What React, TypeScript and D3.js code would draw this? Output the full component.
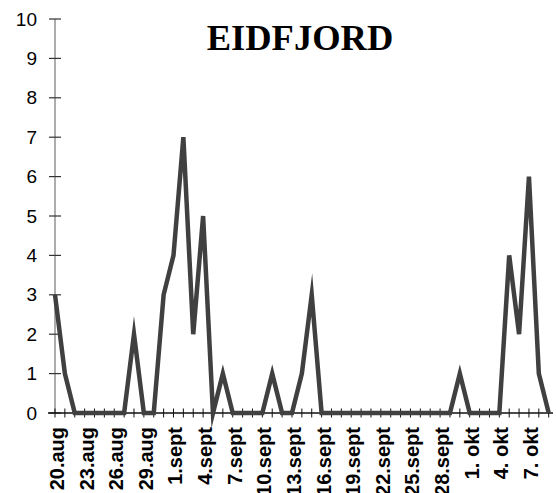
import React from "react";
import * as d3 from "d3";

const W = 556;
const H = 493;
const margin = { top: 19, right: 7, bottom: 80, left: 55 };

// daily values, 20.aug .. 9.okt
const values = [
  3, 1, 0, 0, 0, 0, 0, 0, 2, 0, 0, 3, 4, 7, 2, 5, 0, 1, 0, 0, 0, 0, 1, 0, 0,
  1, 3, 0, 0, 0, 0, 0, 0, 0, 0, 0, 0, 0, 0, 0, 0, 1, 0, 0, 0, 0, 4, 2, 6, 1, 0,
];

// label every third day
const tickLabels = [
  "20.aug", "23.aug", "26.aug", "29.aug", "1.sept", "4.sept", "7.sept",
  "10.sept", "13.sept", "16.sept", "19.sept", "22.sept", "25.sept", "28.sept",
  "1. okt", "4. okt", "7. okt",
];

const yTicks = [0, 1, 2, 3, 4, 5, 6, 7, 8, 9, 10];

export default function App() {
  const idx = values.map((_, i) => i);

  const x = d3
    .scalePoint<number>()
    .domain(idx)
    .range([margin.left, W - margin.right - 0.3]);

  const y = d3
    .scaleLinear()
    .domain([0, 10])
    .range([H - margin.bottom, margin.top]);

  const line = d3
    .line<number>()
    .x((_, i) => x(i)!)
    .y((d) => y(d));

  const y0 = y(0);

  return (
    <svg
      width={W}
      height={H}
      style={{ position: "absolute", left: 0, top: 0, background: "#fff" }}
      fontFamily="Liberation Sans, Arial, sans-serif"
    >
      <text
        x={300}
        y={50}
        textAnchor="middle"
        fontFamily="Liberation Serif, Times New Roman, serif"
        fontWeight="bold"
        fontSize={36.5}
      >
        EIDFJORD
      </text>

      {/* y axis */}
      <line x1={margin.left} x2={margin.left} y1={y(10)} y2={y0} stroke="#808080" strokeWidth={1.3} />
      {yTicks.map((t) => (
        <g key={t}>
          <line x1={margin.left - 6} x2={margin.left + 6} y1={y(t)} y2={y(t)} stroke="#333" strokeWidth={1.2} />
          <text x={37} y={y(t)} textAnchor="end" dominantBaseline="central" fontSize={19}>
            {t}
          </text>
        </g>
      ))}

      {/* x axis */}
      <line x1={margin.left - 7} x2={W - 3} y1={y0} y2={y0} stroke="#111" strokeWidth={1.3} />
      {idx.map((i) => (
        <line key={i} x1={x(i)} x2={x(i)} y1={y0 - 4.5} y2={y0 + 4.5} stroke="#111" strokeWidth={1} />
      ))}
      {tickLabels.map((lab, k) => {
        const px = x(k * 3)! + 2;
        const py = 427;
        return (
          <text
            key={lab}
            transform={`translate(${px},${py}) rotate(-90)`}
            textAnchor="end"
            dominantBaseline="central"
            fontWeight="bold"
            fontSize={20}
          >
            {lab}
          </text>
        );
      })}

      <path
        d={line(values) ?? ""}
        fill="none"
        stroke="#404040"
        strokeWidth={4.5}
        strokeLinejoin="miter"
        strokeMiterlimit={10}
      />
    </svg>
  );
}
